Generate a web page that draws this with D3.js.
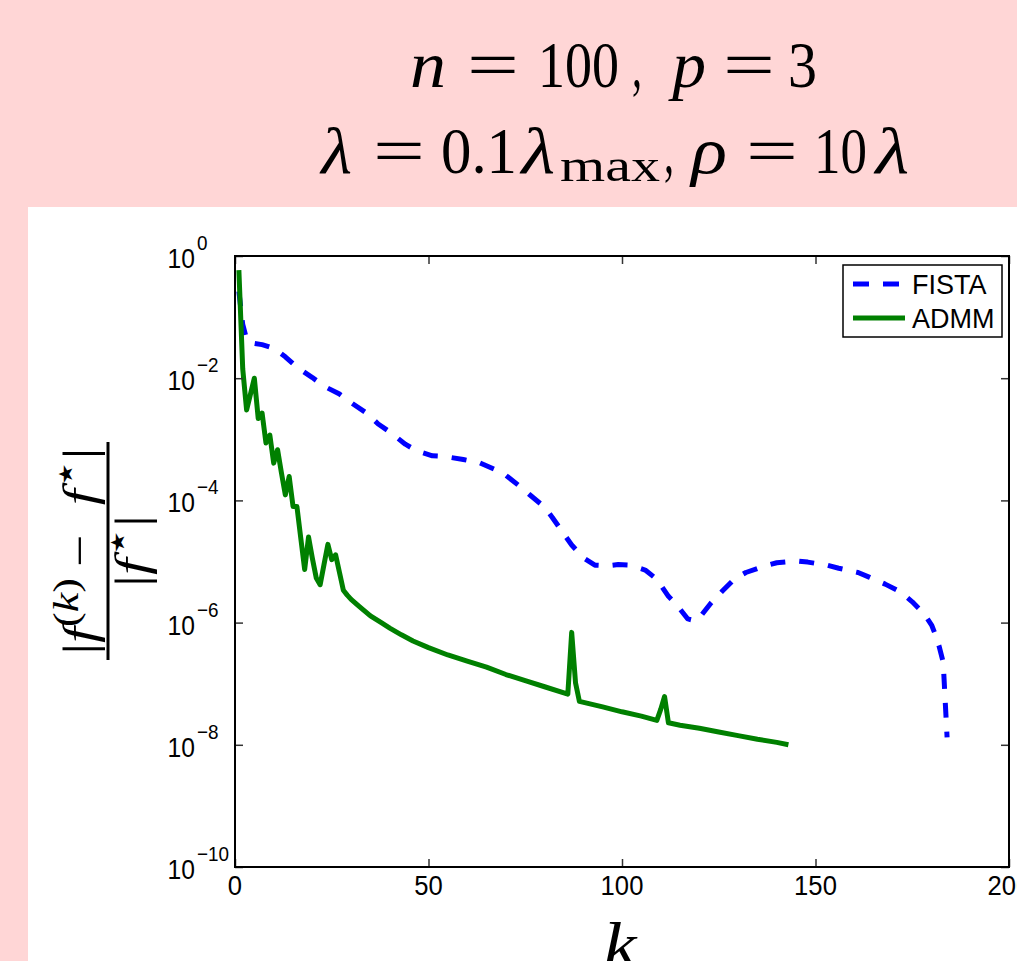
<!DOCTYPE html>
<html><head><meta charset="utf-8">
<script src="https://cdn.jsdelivr.net/npm/d3@7"></script>
<style>
html,body{margin:0;padding:0;background:#ffd6d6;overflow:hidden}
svg{display:block}
</style></head><body>
<svg id="chart" width="1017" height="961"></svg>
<script>
// ---- data (values given as log10 of relative error) ----
const fistaK   = [1,2,3,4,5,7,10,13,16,20,23,27,30,34,37,40,44,47,51,54,59,63,67,70,74,76,80,82,85,87,90,93,96,99,102,106,109,112,114,117,119,120,123,126,129,132,137,140,145,148,153,156,161,164,168,172,175,178,180,181,182,183,184];
const fistaLog = [-0.58,-1.12,-1.36,-1.42,-1.43,-1.45,-1.51,-1.65,-1.82,-1.99,-2.13,-2.26,-2.40,-2.57,-2.75,-2.88,-3.08,-3.19,-3.27,-3.28,-3.33,-3.38,-3.49,-3.59,-3.79,-3.90,-4.11,-4.28,-4.55,-4.73,-4.94,-5.06,-5.07,-5.05,-5.06,-5.14,-5.29,-5.57,-5.70,-5.94,-5.97,-5.92,-5.68,-5.48,-5.29,-5.18,-5.07,-5.02,-4.99,-5.01,-5.06,-5.11,-5.18,-5.26,-5.37,-5.50,-5.66,-5.85,-6.04,-6.20,-6.40,-6.65,-7.88];
const admmK   = [1,2,3,4,5,6,7,8,9,10,11,12,13,14,15,16,17,18,19,20,21,22,23,24,25,26,27,28,29,30,32,35,38,40,43,46,50,55,60,65,70,75,80,86,87,88,89,95,100,105,109,110,111,112,115,120,125,130,135,140,143];
const admmLog = [-0.23,-1.85,-2.52,-2.26,-2.00,-2.66,-2.57,-3.06,-2.93,-3.39,-3.17,-3.55,-3.91,-3.61,-4.10,-4.10,-4.62,-5.13,-4.60,-4.95,-5.27,-5.38,-5.05,-4.72,-4.97,-4.89,-5.18,-5.47,-5.55,-5.62,-5.73,-5.89,-6.01,-6.09,-6.20,-6.30,-6.41,-6.53,-6.63,-6.73,-6.85,-6.95,-7.05,-7.17,-6.16,-6.99,-7.29,-7.38,-7.46,-7.53,-7.60,-7.42,-7.21,-7.64,-7.68,-7.73,-7.79,-7.85,-7.91,-7.96,-8.00];
const xTicks = [0,50,100,150,200];
const yTickExps = [0,-2,-4,-6,-8,-10];
const seriesNames = ["FISTA","ADMM"];
const seriesColors = ["#0000ff","#008000"];

const svg = d3.select("#chart");
svg.append("rect").attr("x",0).attr("y",0).attr("width",1017).attr("height",961).attr("fill","#ffd6d6");
svg.append("rect").attr("x",28).attr("y",207).attr("width",989).attr("height",754).attr("fill","#ffffff");

const L=235,R=1009,T=256,B=867;
const x = d3.scaleLinear().domain([0,200]).range([L,R]);
const y = d3.scaleLog().domain([1e-10,1]).range([B,T]);

svg.append("clipPath").attr("id","clip").append("rect")
  .attr("x",L).attr("y",T).attr("width",R-L).attr("height",B-T);

const line = d3.line().x(d=>x(d.k)).y(d=>y(d.v));
const fistaData = fistaK.map((k,i)=>({k, v: Math.pow(10, fistaLog[i])}));
const admmData  = admmK.map((k,i)=>({k, v: Math.pow(10, admmLog[i])}));

const plot = svg.append("g").attr("clip-path","url(#clip)");
plot.append("path").datum(fistaData).attr("d",line)
  .attr("fill","none").attr("stroke",seriesColors[0]).attr("stroke-width",5)
  .attr("stroke-dasharray","15,14").attr("stroke-linejoin","round");
plot.append("path").datum(admmData).attr("d",line)
  .attr("fill","none").attr("stroke",seriesColors[1]).attr("stroke-width",5)
  .attr("stroke-linejoin","round");

// axes (inward ticks on all four sides)
const yTickVals = yTickExps.map(e=>Math.pow(10,e));
function styleAxis(g){
  g.select(".domain").remove();
  g.selectAll(".tick line").attr("stroke","#333").attr("stroke-width",1.5);
  g.selectAll(".tick text").remove();
}
svg.append("g").attr("transform",`translate(0,${B})`)
  .call(d3.axisBottom(x).tickValues(xTicks).tickSizeInner(-8).tickSizeOuter(0)).call(styleAxis);
svg.append("g").attr("transform",`translate(0,${T})`)
  .call(d3.axisTop(x).tickValues(xTicks).tickSizeInner(-8).tickSizeOuter(0)).call(styleAxis);
svg.append("g").attr("transform",`translate(${L},0)`)
  .call(d3.axisLeft(y).tickValues(yTickVals).tickSizeInner(-8).tickSizeOuter(0)).call(styleAxis);
svg.append("g").attr("transform",`translate(${R},0)`)
  .call(d3.axisRight(y).tickValues(yTickVals).tickSizeInner(-8).tickSizeOuter(0)).call(styleAxis);

svg.append("rect").attr("x",L).attr("y",T).attr("width",R-L).attr("height",B-T)
  .attr("fill","none").attr("stroke","#000").attr("stroke-width",2);

const sans = "'Liberation Sans', Arial, Helvetica, sans-serif";
const serif = "'Liberation Serif', 'Times New Roman', serif";

// x tick labels
svg.selectAll(".xlab").data(xTicks).join("text").attr("class","xlab")
  .attr("transform",d=>`translate(${x(d)},895) scale(0.95,1)`)
  .attr("text-anchor","middle").attr("font-family",sans).attr("font-size",27)
  .attr("fill","#000").text(d=>d);

// y tick labels 10^e
const yl = svg.selectAll(".ylab").data(yTickExps).join("g").attr("class","ylab");
yl.append("text")
  .attr("transform",e=>`translate(195,${y(Math.pow(10,e))+12}) scale(0.88,1)`)
  .attr("text-anchor","end").attr("font-family",sans).attr("font-size",28).attr("fill","#000")
  .text("10");
yl.append("text")
  .attr("transform",e=>`translate(197,${y(Math.pow(10,e))-6}) scale(0.9,1)`)
  .attr("text-anchor","start").attr("font-family",sans).attr("font-size",21).attr("fill","#000")
  .text(e=> e===0 ? "0" : "\u2212"+Math.abs(e));

// legend
const lg = svg.append("g");
lg.append("rect").attr("x",843).attr("y",265).attr("width",159).attr("height",72)
  .attr("fill","#fff").attr("stroke","#000").attr("stroke-width",1.5);
seriesNames.forEach((name,i)=>{
  const yy = 284 + i*34;
  lg.append("line").attr("x1",853).attr("x2",905).attr("y1",yy).attr("y2",yy)
    .attr("stroke",seriesColors[i]).attr("stroke-width",5)
    .attr("stroke-dasharray", i===0 ? "16,14" : null);
  lg.append("text").attr("x",912).attr("y",yy+10).attr("font-family",sans)
    .attr("font-size",27).attr("fill","#000").text(name);
});

// title: each token placed over its measured span
function token(str, x0, x1, baseline, size, italic){
  const t = svg.append("text").attr("font-family",serif).attr("font-size",size)
    .attr("font-style", italic ? "italic" : "normal").attr("fill","#000").text(str);
  const bb = t.node().getBBox();
  const s = (x1-x0)/bb.width;
  t.attr("transform",`translate(${x0},${baseline}) scale(${s},1) translate(${-bb.x},0)`);
}
const T1 = 87, T2 = 173, FS = 65;
token("n",   410, 446, T1, FS, true);
token("=",   467, 519, T1, FS, false);
token("100", 538, 619, T1, FS, false);
token(",",   632, 642, T1, FS, false);
token("p",   668, 706, T1, FS, true);
token("=",   723, 775, T1, FS, false);
token("3",   788, 817, T1, FS, false);

token("\u03bb", 319, 352, T2, FS, true);
token("=",   373, 425, T2, FS, false);
token("0.1", 441, 517, T2, FS, false);
token("\u03bb", 519, 555, T2, FS, true);
token("max", 560, 660, T2+8, 46, false);
token(",",   664, 674, T2, FS, false);
token("\u03c1", 689, 727, T2, FS, true);
token("=",   746, 798, T2, FS, false);
token("10",  814, 867, T2, FS, false);
token("\u03bb", 873, 909, T2, FS, true);

// y label: |f^(k) - f*| / |f*|, rotated
function fitRot(textSel, cxScreenX, cyScreen, targetLen){
  const bb = textSel.node().getBBox();
  const s = targetLen / bb.width;
  const c = bb.x + bb.width/2;
  textSel.attr("transform",`translate(${cxScreenX},${cyScreen}) rotate(-90) scale(${s},1) translate(${-c},0)`);
}
const num = svg.append("text").attr("font-family",serif).attr("font-size",46).attr("fill","#000");
num.append("tspan").text("|");
num.append("tspan").attr("font-style","italic").text("f");
num.append("tspan").attr("font-size",35).attr("dy",-17).text("(");
num.append("tspan").attr("font-size",35).attr("font-style","italic").text("k");
num.append("tspan").attr("font-size",35).text(")");
num.append("tspan").attr("dy",17).text("\u2009\u2212\u2002");
num.append("tspan").attr("font-style","italic").text("f");
num.append("tspan").attr("font-size",38).attr("dy",-17).text("\u22c6");
num.append("tspan").attr("dy",17).text("|");
fitRot(num, 95, 551, 207);

const den = svg.append("text").attr("font-family",serif).attr("font-size",46).attr("fill","#000");
den.append("tspan").text("|");
den.append("tspan").attr("font-style","italic").text("f");
den.append("tspan").attr("font-size",38).attr("dy",-17).text("\u22c6");
den.append("tspan").attr("dy",17).text("|");
fitRot(den, 147, 551, 72);

svg.append("line").attr("x1",108).attr("x2",108).attr("y1",442).attr("y2",660)
  .attr("stroke","#000").attr("stroke-width",3);

// x label
svg.append("text").attr("transform","translate(620,966) scale(1.15,1)")
  .attr("text-anchor","middle").attr("font-family",serif).attr("font-style","italic")
  .attr("font-size",64).attr("fill","#000").text("k");
</script>
</body></html>
